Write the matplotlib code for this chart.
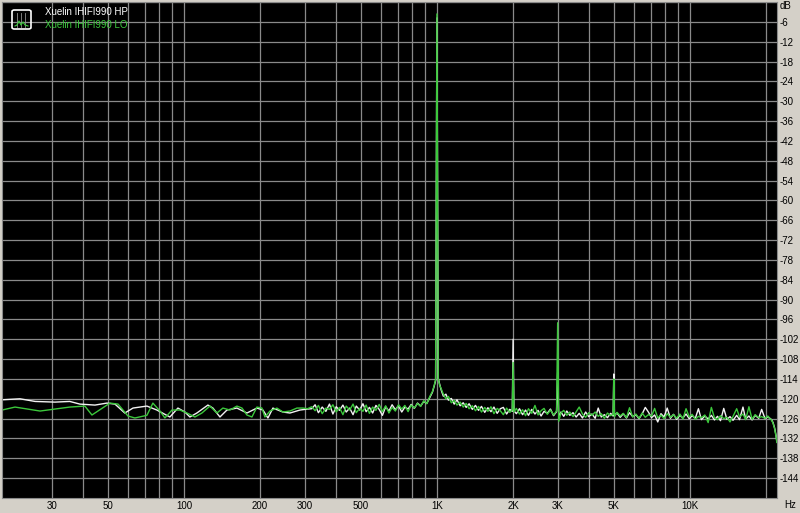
import matplotlib
matplotlib.use('Agg')
import matplotlib.pyplot as plt
from matplotlib.patches import FancyBboxPatch
from matplotlib.lines import Line2D
from matplotlib.ticker import NullFormatter

hp_low_freq = [19.1, 22.5, 25.8, 30.9, 35.4, 38.8, 44.5, 49.6, 53.4, 58.4, 62.9, 71.4,
               78.2, 88.0, 94.7, 100.9, 105.6, 112.5, 124.4, 130.2, 138.8, 147.9, 162.0,
               177.4, 194.3, 205.2, 214.8, 224.8, 246.2, 262.4, 287.4, 308.0]
hp_low_db = [-120.3, -120.0, -120.8, -121.0, -120.8, -121.6, -121.9, -121.3, -121.6, -124.3,
             -122.8, -122.2, -123.4, -125.5, -122.8, -124.0, -125.5, -124.3, -121.9, -122.8,
             -125.5, -123.4, -122.8, -124.3, -122.8, -123.4, -125.8, -122.8, -124.0, -124.3,
             -123.4, -123.1]

lo_low_freq = [19.1, 21.5, 27.0, 35.4, 40.6, 43.3, 51.0, 54.9, 60.1, 64.0, 71.4, 75.4,
               80.4, 84.1, 89.7, 96.4, 102.8, 110.5, 117.8, 126.7, 135.0, 142.6, 152.0,
               162.0, 169.6, 177.4, 185.7, 194.3, 203.4, 209.0, 218.8, 233.1, 246.2, 262.4,
               279.7, 295.4, 308.0]
lo_low_db = [-123.4, -122.5, -123.7, -122.5, -122.2, -124.9, -121.3, -121.6, -125.2, -125.8,
             -125.0, -121.3, -123.7, -125.8, -123.4, -123.4, -124.3, -125.5, -124.3, -122.2,
             -124.3, -122.8, -123.4, -122.2, -122.8, -124.9, -125.5, -122.5, -122.8, -125.5,
             -123.7, -122.8, -124.0, -123.7, -122.8, -122.8, -123.0]

noise_freq = [320, 330, 340, 352, 364, 376, 388, 400, 412, 425,
              438, 452, 466, 480, 495, 510, 525, 541, 557, 574,
              591, 609, 627, 646, 665, 685, 705, 726, 747, 769,
              791, 814, 838, 862, 887, 912, 937, 960, 975, 988,
              1000, 1012, 1025, 1040, 1060, 1085, 1110, 1140, 1170, 1200,
              1235, 1270, 1305, 1340, 1380, 1420, 1460, 1500, 1545, 1590,
              1635, 1680, 1730, 1780, 1830, 1885, 1940, 1985, 2000, 2015,
              2060, 2120, 2180, 2240, 2300, 2370, 2440, 2510, 2580, 2650,
              2730, 2810, 2890, 2970, 3000, 3030, 3090, 3170, 3260, 3350,
              3450, 3550, 3650, 3760, 3870, 3980, 4100, 4220, 4340, 4460,
              4590, 4720, 4860, 4970, 5000, 5030, 5150, 5300, 5450, 5610,
              5770, 5940, 6110, 6290, 6470, 6660, 6850, 7050, 7250, 7460,
              7680, 7900, 8130, 8370, 8610, 8860, 9120, 9380, 9650, 9930,
              10200, 10500, 10800, 11100, 11450, 11800, 12150, 12500, 12850, 13200,
              13600, 14000, 14400, 14800, 15300, 15700, 16200, 16600, 17100, 17600,
              18100, 18700, 19200, 19800, 20300, 20700, 21000, 21300, 21600, 21900,
              22050]
hp_noise_db = [-123.0, -121.8, -124.2, -122.5, -123.8, -121.6, -124.6, -122.4, -123.5, -121.9,
               -124.0, -122.8, -124.8, -122.2, -123.4, -121.5, -123.9, -122.6, -124.3, -122.0,
               -123.2, -125.0, -122.4, -123.7, -121.8, -123.3, -122.1, -124.0, -122.5, -123.1,
               -121.7, -122.9, -121.3, -122.2, -120.8, -121.4, -119.6, -118.0, -116.2, -114.5,
               -4.8, -113.8, -115.6, -117.4, -119.2, -118.6, -120.4, -119.9, -121.6, -120.3,
               -122.1, -121.2, -122.6, -121.5, -123.2, -122.0, -123.5, -122.3, -124.1, -122.7,
               -123.9, -122.5, -124.4, -123.0, -122.6, -124.6, -123.2, -123.8, -102.0, -123.6,
               -124.5, -123.0, -124.8, -123.4, -125.0, -123.2, -124.6, -123.5, -125.2, -123.8,
               -124.4, -123.1, -125.1, -123.9, -112.0, -125.6, -124.0, -125.3, -123.7, -125.0,
               -124.2, -125.5, -124.4, -125.8, -124.0, -125.4, -124.6, -125.9, -122.8, -125.5,
               -124.8, -125.7, -124.4, -125.2, -112.5, -125.0, -124.3, -125.6, -124.5, -125.8,
               -124.2, -125.4, -124.8, -126.0, -124.6, -122.6, -124.0, -125.7, -124.9, -127.0,
               -124.5, -125.5, -122.8, -125.9, -124.7, -126.2, -125.0, -125.8, -124.6, -126.0,
               -125.1, -125.9, -123.0, -126.3, -125.2, -126.1, -125.0, -126.4, -125.3, -126.6,
               -122.9, -126.2, -125.4, -126.5, -125.0, -126.3, -122.5, -126.1, -125.2, -126.4,
               -125.0, -125.9, -123.2, -126.0, -125.4, -125.9, -126.3, -127.2, -128.8, -131.2,
               -133.0]
lo_noise_db = [-122.4, -123.6, -122.0, -124.5, -122.8, -123.2, -121.8, -124.0, -122.6, -124.8,
               -122.2, -123.4, -121.6, -124.2, -122.9, -123.8, -121.9, -124.4, -122.5, -123.5,
               -121.7, -123.9, -122.1, -124.3, -122.6, -123.7, -121.8, -123.1, -122.0, -123.9,
               -121.9, -122.8, -121.4, -122.3, -120.6, -121.5, -119.3, -117.8, -116.0, -114.2,
               -3.6, -114.0, -115.9, -117.0, -118.6, -120.0, -119.3, -121.2, -120.5, -121.9,
               -121.0, -122.5, -121.4, -123.0, -122.1, -123.6, -122.3, -124.0, -122.6, -123.8,
               -122.4, -124.5, -122.9, -123.6, -124.8, -122.8, -124.1, -123.4, -109.0, -124.0,
               -122.9, -124.6, -123.3, -125.1, -123.0, -124.4, -122.0, -124.9, -123.6, -122.9,
               -124.7, -123.4, -124.9, -123.7, -97.0, -126.8, -124.3, -123.5, -125.0, -124.0,
               -125.4, -123.9, -122.5, -124.6, -125.6, -124.2, -125.0, -124.0, -125.3, -124.5,
               -125.9, -124.3, -125.1, -124.7, -114.0, -125.4, -124.1, -125.2, -124.4, -125.7,
               -122.7, -125.5, -124.6, -125.9, -124.3, -125.6, -124.8, -125.2, -122.9, -125.8,
               -124.9, -126.0, -124.5, -125.6, -124.8, -125.9, -124.6, -126.1, -123.0, -125.5,
               -124.7, -126.2, -125.3, -125.7, -124.9, -127.2, -122.6, -125.8, -126.3, -125.1,
               -126.0, -125.6, -127.0, -125.3, -123.0, -125.5, -124.6, -126.3, -122.4, -126.2,
               -124.8, -125.7, -125.4, -125.9, -125.2, -126.0, -126.4, -127.4, -129.0, -131.5,
               -133.2]

series_names = ['Xuelin IHIFI990 HP', 'Xuelin IHIFI990 LO']
x_ticks = [30, 50, 100, 200, 300, 500, 1000, 2000, 3000, 5000, 10000]
x_labels = ['30', '50', '100', '200', '300', '500', '1K', '2K', '3K', '5K', '10K']
grid_freqs = [30, 40, 50, 60, 70, 80, 90, 100, 200, 300, 400, 500, 600, 700, 800, 900,
              1000, 2000, 3000, 4000, 5000, 6000, 7000, 8000, 9000, 10000, 20000]
y_ticks = [-6, -12, -18, -24, -30, -36, -42, -48, -54, -60, -66, -72, -78, -84, -90, -96,
           -102, -108, -114, -120, -126, -132, -138, -144]

hp_freq = hp_low_freq + noise_freq
hp_db = hp_low_db + hp_noise_db
lo_freq = lo_low_freq + noise_freq
lo_db = lo_low_db + lo_noise_db

# Figura con fondo gris tipo ventana
plt.rcParams['font.family'] = ['Liberation Sans', 'DejaVu Sans']
fig = plt.figure(figsize=(8, 5.13), dpi=100, facecolor='#d4d0c8')
ax = fig.add_axes([2 / 800, 1 - 498 / 513, 775 / 800, 496 / 513])
ax.set_facecolor('black')
ax.set_xscale('log')
ax.set_xlim(19.1, 22080)
ax.set_ylim(-150, 0)

# Rejilla
ax.set_xticks(grid_freqs, minor=True)
ax.xaxis.set_minor_formatter(NullFormatter())
ax.set_xticks(x_ticks)
ax.set_xticklabels(x_labels)
ax.set_yticks([0] + y_ticks)
ax.set_yticklabels([''] + [str(v) for v in y_ticks])
ax.grid(which='both', color='#8a8a8a', linewidth=0.9)
ax.set_axisbelow(True)
ax.tick_params(axis='x', which='both', length=0, pad=2, labelsize=7, colors='black')
ax.tick_params(axis='y', length=0, pad=2, labelsize=7, left=False, labelleft=False,
               right=True, labelright=True)
for s in ax.spines.values():
    s.set_color('#8a8a8a')

# Curvas
ax.plot(hp_freq, hp_db, color='#f2f2f2', linewidth=1.0)
ax.plot(lo_freq, lo_db, color='#3cc83c', linewidth=1.0)

# Leyenda
fig.text(45 / 800, 1 - 12 / 513, series_names[0], color='white', fontsize=7, va='center')
fig.text(45 / 800, 1 - 25 / 513, series_names[1], color='#3cc83c', fontsize=7, va='center')
icono = FancyBboxPatch((12 / 800, 1 - 29 / 513), 19 / 800, 19 / 513,
                       boxstyle='round,pad=0,rounding_size=0.003',
                       transform=fig.transFigure, fill=False, edgecolor='white', linewidth=1.2)
fig.add_artist(icono)
for gx in [17, 21, 25]:
    fig.add_artist(Line2D([gx / 800, gx / 800], [1 - 27 / 513, 1 - 13 / 513],
                          transform=fig.transFigure, color='#909090', linewidth=0.6))
fig.add_artist(Line2D([15 / 800, 17 / 800, 19 / 800, 21 / 800, 23 / 800, 25 / 800, 28 / 800],
                      [1 - 26 / 513, 1 - 25 / 513, 1 - 21 / 513, 1 - 25 / 513, 1 - 22 / 513,
                       1 - 25 / 513, 1 - 26 / 513],
                      transform=fig.transFigure, color='#3cc83c', linewidth=0.8))

# Unidades
fig.text(780 / 800, 1 - 6 / 513, 'dB', fontsize=7, va='center', ha='left')
fig.text(790 / 800, 1 - 505 / 513, 'Hz', fontsize=7, va='center', ha='center')

fig.savefig('out.png', dpi=100, facecolor=fig.get_facecolor())
